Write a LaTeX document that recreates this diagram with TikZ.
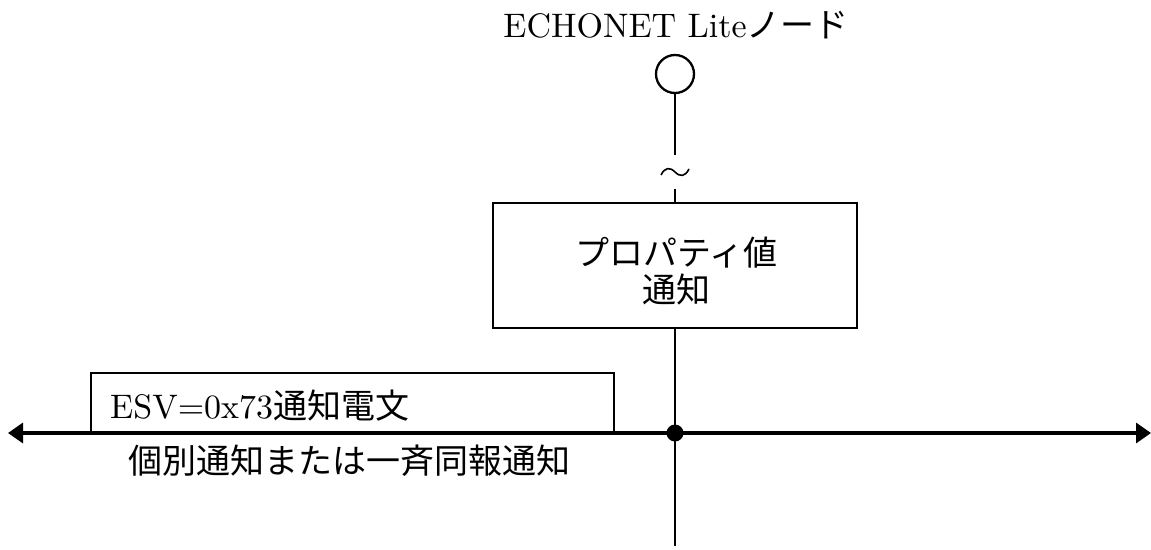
\documentclass[tikz,border=0pt]{standalone}
\usepackage{fontspec}
\usepackage{graphicx}
\newfontfamily\jp{Noto Sans CJK JP}
\newcommand{\bigtxt}[1]{\scalebox{3.4}{#1}}
\usetikzlibrary{arrows.meta}
\begin{document}
\begin{tikzpicture}[x=1pt,y=-1pt,
  every node/.style={font=\fontsize{10}{12}\selectfont,inner sep=0pt},
  wire/.style={line width=2.3pt},
  bus/.style={line width=3.4pt},
  procbox/.style={draw,line width=2.3pt,minimum width=364pt,minimum height=125pt},
  msgbox/.style={draw,line width=2.3pt,minimum width=523pt,minimum height=60pt},
  nodecirc/.style={draw,circle,line width=2.3pt,minimum size=38pt},
  junction/.style={fill,circle,minimum size=17pt},
  breakmark/.style={minimum width=28pt,minimum height=34pt}]
\useasboundingbox (0,0) rectangle (1151,549);
\node[anchor=base] (title) at (676,37) {\bigtxt{ECHONET Lite{\jp ノード}}};
\node[nodecirc] (circ) at (675,74) {};
\node[breakmark] (tld) at (675,172) {};
\draw[line width=1.6pt] ([shift={(-14,3)}]tld.center) .. controls ([shift={(-10,-5)}]tld.center) and ([shift={(-5,-5)}]tld.center) .. (tld.center) .. controls ([shift={(5,5)}]tld.center) and ([shift={(10,5)}]tld.center) .. ([shift={(14,-3)}]tld.center);
\node[procbox] (proc) at (675,265.5) {};
\node (ptxt1) at (676,253) {\bigtxt{\jp プロパティ値}};
\node (ptxt2) at (676,290) {\bigtxt{\jp 通知}};
\node[msgbox] (msg) at (352.5,403) {};
\node[anchor=base west] (msgtxt) at (110,418) {\bigtxt{ESV=0x73{\jp 通知電文}}};
\node (note) at (349,461) {\bigtxt{\jp 個別通知または一斉同報通知}};
\node[junction] (dot) at (675,433) {};
\coordinate (busL) at (8,433);
\coordinate (busR) at (1151,433);
\coordinate (bot) at (675,546);
\draw[wire] (circ.south) -- (tld.north);
\draw[wire] (tld.south) -- (proc.north);
\draw[wire] (proc.south) -- (bot);
\draw[bus,{Triangle[length=15pt,width=20pt]}-{Triangle[length=15pt,width=20pt]}] (busL) -- (busR);
\end{tikzpicture}
\end{document}
